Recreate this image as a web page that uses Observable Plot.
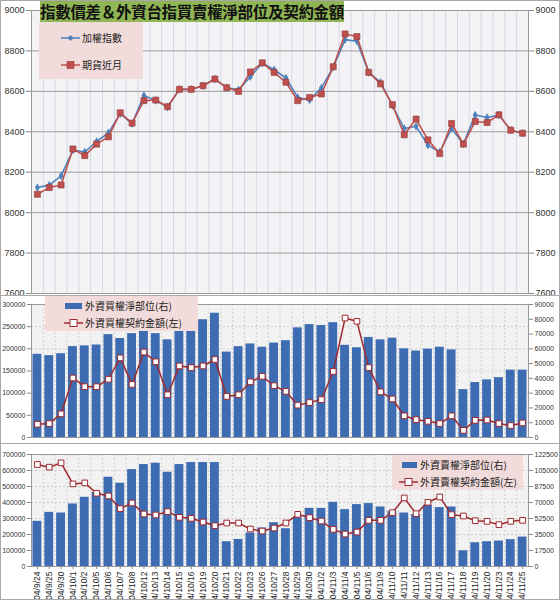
<!DOCTYPE html>
<html><head><meta charset="utf-8">
<script src="https://cdn.jsdelivr.net/npm/d3@7"></script>
<script src="https://cdn.jsdelivr.net/npm/@observablehq/plot@0.6"></script>
<style>
body{margin:0;background:#fff;}
#wrap{position:relative;width:560px;height:600px;overflow:hidden;font-family:"Noto Sans CJK TC","Noto Sans",sans-serif;}
.pl{position:absolute;left:0;}
.pl svg{overflow:visible;}
.box{position:absolute;box-sizing:border-box;border:1px solid #a8a8a8;pointer-events:none;z-index:5;}
.title{position:absolute;left:40px;top:0;width:304px;height:22px;background:#8fb554;font-weight:bold;font-size:15.5px;line-height:22px;color:#111;text-align:center;white-space:nowrap;z-index:4;letter-spacing:-0.3px;}
.leg{position:absolute;background:#f2dcdb;z-index:4;font-size:10px;color:#222;}
.item{position:absolute;left:0;display:flex;align-items:center;white-space:nowrap;}
.item svg{margin-right:2px;}
</style></head>
<body><div id="wrap">
<div class="title">指數價差＆外資台指買賣權淨部位及契約金額</div>
<div class="leg" style="left:39px;top:22px;width:104px;height:57px;">
  <div class="item" style="left:22px;top:8px;"><svg width="19" height="14"><line x1="0" y1="7" x2="19" y2="7" stroke="#4f81bd" stroke-width="1.5"/><path d="M9.5,4 L12.5,7 L9.5,10 L6.5,7Z" fill="#4f81bd"/></svg>加權指數</div>
  <div class="item" style="left:22px;top:35px;"><svg width="19" height="14"><line x1="0" y1="7" x2="19" y2="7" stroke="#c0504d" stroke-width="1.5"/><rect x="6" y="3.5" width="7" height="7" fill="#c0504d" stroke="#8e3b39" stroke-width="0.6"/></svg>期貨近月</div>
</div>
<div class="leg" style="left:45px;top:296px;width:153px;height:35px;">
  <div class="item" style="left:19px;top:2px;"><svg width="19" height="12"><rect x="1" y="3" width="17" height="6" fill="#3d6cb3"/></svg>外資買權淨部位(右)</div>
  <div class="item" style="left:19px;top:19px;"><svg width="19" height="12"><line x1="0" y1="6" x2="19" y2="6" stroke="#9e2a2e" stroke-width="1.5"/><rect x="6" y="2.5" width="7" height="7" fill="#fff" stroke="#9e2a2e" stroke-width="1"/></svg>外資買權契約金額(左)</div>
</div>
<div class="leg" style="left:392px;top:455px;width:131px;height:35px;">
  <div class="item" style="left:9px;top:2px;"><svg width="17" height="12"><rect x="1" y="3" width="15" height="6" fill="#3d6cb3"/></svg>外資賣權淨部位(右)</div>
  <div class="item" style="left:7px;top:19px;"><svg width="19" height="12"><line x1="0" y1="6" x2="19" y2="6" stroke="#9e2a2e" stroke-width="1.5"/><rect x="6" y="2.5" width="7" height="7" fill="#fff" stroke="#9e2a2e" stroke-width="1"/></svg>外資賣權契約金額(左)</div>
</div>
<div class="pl" id="p1" style="top:0;"></div>
<div class="pl" id="p2" style="top:296px;"></div>
<div class="pl" id="p3" style="top:444px;"></div>
<div class="box" style="left:0;top:0;width:560px;height:296px;"></div>
<div class="box" style="left:0;top:295px;width:560px;height:149px;"></div>
<div class="box" style="left:0;top:443px;width:560px;height:157px;"></div>
</div>
<script>
const dates = ["04/9/24","04/9/25","04/9/30","04/10/1","04/10/2","04/10/5","04/10/6","04/10/7","04/10/8","04/10/12","04/10/13","04/10/14","04/10/15","04/10/16","04/10/19","04/10/20","04/10/21","04/10/22","04/10/23","04/10/26","04/10/27","04/10/28","04/10/29","04/10/30","04/11/2","04/11/3","04/11/4","04/11/5","04/11/6","04/11/9","04/11/10","04/11/11","04/11/12","04/11/13","04/11/16","04/11/17","04/11/18","04/11/19","04/11/20","04/11/23","04/11/24","04/11/25"];
// 加權指數
const taiex = [8124,8136,8182,8310,8300,8352,8395,8490,8440,8579,8555,8522,8610,8610,8628,8661,8618,8608,8673,8740,8707,8666,8570,8557,8617,8720,8856,8848,8694,8645,8530,8416,8427,8334,8300,8416,8340,8483,8471,8483,8408,8393];
// 期貨近月
const futures = [8091,8124,8137,8315,8282,8339,8375,8494,8443,8554,8557,8524,8610,8610,8628,8661,8618,8600,8696,8741,8694,8645,8554,8570,8587,8722,8884,8871,8694,8637,8534,8385,8463,8360,8292,8441,8339,8451,8446,8484,8408,8393];
// 外資買權淨部位 (right axis)
const callNet = [56300,55400,56700,61500,62000,62600,69600,67000,70300,72000,70300,66100,72000,72000,79700,84100,57800,61500,63300,61100,63900,65500,74200,76400,75800,77700,62400,60700,67700,66100,67200,60000,58500,59800,61100,59300,32400,37200,39000,40500,45600,45600];
// 外資買權契約金額 (left axis)
const callAmt = [29900,31400,53300,134300,114600,114600,131400,179600,119700,192700,170800,96400,161300,157700,161300,175900,92700,96400,125600,138000,116800,104000,73000,78800,85400,148900,269400,262100,157700,102900,86900,48900,40200,36500,31400,48900,16100,38700,39400,31400,27000,32900];
// 外資賣權淨部位 (right axis)
const putNet = [49400,59200,58500,68400,75700,81200,97600,91100,106000,111500,113000,103100,111500,113700,113700,113700,27100,29600,36600,42100,47900,41300,53800,63600,63600,70200,62200,67700,68800,65100,60300,58500,56700,66900,64400,65100,17200,26000,27100,27800,29300,32200];
// 外資賣權契約金額 (left axis)
const putAmt = [637500,620700,647900,516200,522500,457700,441000,361600,397100,328100,321900,342800,307200,301000,278000,255000,271700,271700,234100,221500,240400,272000,326000,305100,284200,232000,202700,215300,288400,288400,336500,428500,330200,401300,434700,324000,315600,286300,282200,261300,282200,288400];

const topTicks = [7600,7800,8000,8200,8400,8600,8800,9000];
const midLeftTicks = [0,50000,100000,150000,200000,250000,300000];
const midRightTicks = [0,10000,20000,30000,40000,50000,60000,70000,80000,90000];
const botLeftTicks = [0,100000,200000,300000,400000,500000,600000,700000];
const botRightTicks = [0,17500,35000,52500,70000,87500,105000,122500];
const midRatio = 90000/300000;
const botRatio = 122500/700000;

const ML = 31, MR = 32, W = 560;
const step = (W - ML - MR) / dates.length;
const rows = dates.map((d,i)=>({d, taiex:taiex[i], fut:futures[i], cn:callNet[i], ca:callAmt[i], pn:putNet[i], pa:putAmt[i]}));
const xOpt = {type:"band", domain:dates, paddingInner:0.25, paddingOuter:0.125, axis:null};
const font = {fontFamily:"'Liberation Sans', Arial, sans-serif", background:"transparent", color:"#333"};
const plain = d => String(d);

const p1 = Plot.plot({
  width:W, height:296, marginLeft:ML, marginRight:MR, marginTop:10, marginBottom:3,
  x: xOpt,
  y: {domain:[7600,9000], axis:null},
  style: {...font, fontSize:"9px"},
  marks: [
    Plot.frame({fill:"#f3f3f5"}),
    Plot.ruleX(dates, {x:d=>d, dx:step/2, stroke:"#d3dae5"}),
    Plot.ruleY(topTicks, {stroke:"#9c9c9c"}),
    Plot.axisY(topTicks, {anchor:"left", label:null, tickSize:5, tickPadding:2, stroke:"#888", tickFormat:plain}),
    Plot.axisY(topTicks, {anchor:"right", label:null, tickSize:5, tickPadding:2, stroke:"#888", tickFormat:plain}),
    Plot.frame({stroke:"#999"}),
    Plot.line(rows, {x:"d", y:"taiex", stroke:"#4f81bd", strokeWidth:1.6}),
    Plot.dot(rows, {x:"d", y:"taiex", symbol:"diamond", r:2.6, fill:"#4f81bd"}),
    Plot.line(rows, {x:"d", y:"fut", stroke:"#c0504d", strokeWidth:1.6}),
    Plot.dot(rows, {x:"d", y:"fut", symbol:"square", r:3.4, fill:"#c0504d", stroke:"#8e3b39", strokeWidth:0.6})
  ]
});
document.getElementById("p1").appendChild(p1);

const p2 = Plot.plot({
  width:W, height:148, marginLeft:ML, marginRight:MR, marginTop:8, marginBottom:7,
  x: xOpt,
  y: {domain:[0,300000], axis:null},
  style: {...font, fontSize:"7px"},
  marks: [
    Plot.frame({fill:"#f2f2f2"}),
    Plot.ruleX(dates, {x:d=>d, dx:step/2, stroke:"#d0d0d0", strokeDasharray:"2,2"}),
    Plot.ruleY(midLeftTicks, {stroke:"#cfcfcf", strokeDasharray:"2,2"}),
    Plot.axisY(midLeftTicks, {anchor:"left", label:null, tickSize:4, tickPadding:2, stroke:"#888", tickFormat:plain}),
    Plot.axisY(midRightTicks.map(r=>r/midRatio), {anchor:"right", label:null, tickSize:4, tickPadding:2, stroke:"#888", tickFormat:d=>String(Math.round(d*midRatio))}),
    Plot.frame({stroke:"#999"}),
    Plot.barY(rows, {x:"d", y:d=>d.cn/midRatio, fill:"#3d6cb3"}),
    Plot.line(rows, {x:"d", y:"ca", stroke:"#9e2a2e", strokeWidth:1.5}),
    Plot.dot(rows, {x:"d", y:"ca", symbol:"square", r:3.2, fill:"#fff", stroke:"#9e2a2e", strokeWidth:1})
  ]
});
document.getElementById("p2").appendChild(p2);

const p3 = Plot.plot({
  width:W, height:156, marginLeft:ML, marginRight:MR, marginTop:10, marginBottom:34,
  x: xOpt,
  y: {domain:[0,700000], axis:null},
  style: {...font, fontSize:"7px"},
  marks: [
    Plot.frame({fill:"#f2f2f2"}),
    Plot.ruleX(dates, {x:d=>d, dx:step/2, stroke:"#d0d0d0", strokeDasharray:"2,2"}),
    Plot.ruleY(botLeftTicks, {stroke:"#cfcfcf", strokeDasharray:"2,2"}),
    Plot.axisY(botLeftTicks, {anchor:"left", label:null, tickSize:4, tickPadding:2, stroke:"#888", tickFormat:plain}),
    Plot.axisY(botRightTicks.map(r=>r/botRatio), {anchor:"right", label:null, tickSize:4, tickPadding:2, stroke:"#888", tickFormat:d=>String(Math.round(d*botRatio))}),
    Plot.axisX({label:null, tickRotate:-90, tickSize:3, tickPadding:2, fontSize:"8.5px", stroke:"#888", color:"#222"}),
    Plot.frame({stroke:"#999"}),
    Plot.barY(rows, {x:"d", y:d=>d.pn/botRatio, fill:"#3d6cb3"}),
    Plot.line(rows, {x:"d", y:"pa", stroke:"#9e2a2e", strokeWidth:1.5}),
    Plot.dot(rows, {x:"d", y:"pa", symbol:"square", r:3.2, fill:"#fff", stroke:"#9e2a2e", strokeWidth:1})
  ]
});
document.getElementById("p3").appendChild(p3);
</script>
</body></html>
